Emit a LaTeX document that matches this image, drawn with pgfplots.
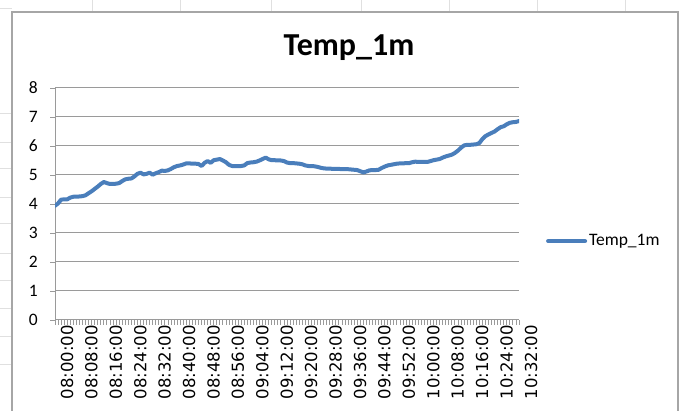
\documentclass[border=0pt]{standalone}
\usepackage{fontspec}
\setmainfont{Carlito}
\newfontfamily\dejavu{DejaVu Sans}
\usepackage{pgfplots}
\pgfplotsset{compat=1.18}
\definecolor{exblue}{HTML}{4A7EBB}
\definecolor{gridc}{HTML}{9A9A9A}
\begin{document}
\begin{tikzpicture}[x=1pt,y=1pt]
\path[use as bounding box] (0,0) rectangle (689,411);
% faint spreadsheet cells outside the chart frame
\foreach \xx in {92,180,271,361,449,537,625} \draw[black!12, line width=0.6pt] (\xx,399) -- (\xx,411);
\foreach \yy in {113,142,168,197,223,253,280,308,336,364} \draw[black!12, line width=0.6pt] (0,411-\yy) -- (12,411-\yy);
\draw[black!12, line width=0.6pt] (0,403) -- (12,403);
% chart frame
\draw[black!35, line width=1.2pt] (12,-5) -- (12,399) -- (678,399) -- (678,-5);
\node[font=\fontsize{32}{36}\selectfont\bfseries] at (349,363) {Temp\_1m};
\begin{axis}[
  at={(55pt,91pt)}, anchor=south west,
  scale only axis, width=464pt, height=232pt,
  xmin=0, xmax=152, ymin=0, ymax=8,
  ytick={0,1,...,8},
  xtick={0,8,...,152},
  minor xtick={0,1,...,152},
  xticklabels={08:00:00,08:08:00,08:16:00,08:24:00,08:32:00,08:40:00,08:48:00,08:56:00,09:04:00,09:12:00,09:20:00,09:28:00,09:36:00,09:44:00,09:52:00,10:00:00,10:08:00,10:16:00,10:24:00,10:32:00},
  /pgf/number format/assume math mode=true,
  yticklabel style={font=\fontsize{17.5}{20}\selectfont, anchor=east, inner sep=0pt, xshift=-12pt},
  xticklabel style={font=\dejavu\fontsize{16.5}{19}\selectfont, rotate=90, anchor=east, inner sep=0pt, yshift=-12pt},
  axis x line*=bottom, axis y line*=left,
  axis line style={gridc, line width=1pt, -},
  tick style={gridc, line width=0.8pt},
  tick align=outside,
  major tick length=5pt, minor tick length=5pt,
  ymajorgrids, grid style={gridc, line width=1pt},
  legend style={draw=none, fill=none, at={(1.058,0.34)}, anchor=west,
    font=\fontsize{17.5}{20}\selectfont, inner sep=0pt},
  legend image code/.code={\draw[#1] (0pt,0pt) -- (37pt,0pt);},
]
\addplot[exblue, line width=4pt, line join=round, line cap=round] table[row sep=\\] {
x y\\
0 3.94\\ 1 4.02\\ 2 4.15\\ 3 4.16\\ 4 4.16\\ 5 4.22\\ 6 4.25\\ 7 4.25\\ 8 4.26\\ 9 4.27\\
10 4.30\\ 11 4.37\\ 12 4.44\\ 13 4.52\\ 14 4.60\\ 15 4.69\\ 16 4.76\\ 17 4.72\\ 18 4.69\\ 19 4.69\\
20 4.70\\ 21 4.72\\ 22 4.79\\ 23 4.85\\ 24 4.87\\ 25 4.88\\ 26 4.95\\ 27 5.04\\ 28 5.08\\ 29 5.02\\
30 5.04\\ 31 5.08\\ 32 5.01\\ 33 5.06\\ 34 5.10\\ 35 5.15\\ 36 5.14\\ 37 5.16\\ 38 5.21\\ 39 5.27\\
40 5.31\\ 41 5.33\\ 42 5.36\\ 43 5.40\\ 44 5.40\\ 45 5.39\\ 46 5.39\\ 47 5.38\\ 48 5.31\\ 49 5.42\\
50 5.48\\ 51 5.42\\ 52 5.51\\ 53 5.53\\ 54 5.55\\ 55 5.50\\ 56 5.44\\ 57 5.35\\ 58 5.31\\ 59 5.31\\
60 5.31\\ 61 5.31\\ 62 5.33\\ 63 5.41\\ 64 5.43\\ 65 5.44\\ 66 5.46\\ 67 5.50\\ 68 5.55\\ 69 5.60\\
70 5.54\\ 71 5.51\\ 72 5.51\\ 73 5.50\\ 74 5.50\\ 75 5.48\\ 76 5.43\\ 77 5.41\\ 78 5.41\\ 79 5.40\\
80 5.39\\ 81 5.37\\ 82 5.33\\ 83 5.31\\ 84 5.31\\ 85 5.30\\ 86 5.28\\ 87 5.25\\ 88 5.23\\ 89 5.22\\
90 5.22\\ 91 5.21\\ 92 5.21\\ 93 5.21\\ 94 5.20\\ 95 5.20\\ 96 5.20\\ 97 5.19\\ 98 5.18\\ 99 5.17\\
100 5.13\\ 101 5.09\\ 102 5.12\\ 103 5.16\\ 104 5.17\\ 105 5.17\\ 106 5.18\\ 107 5.24\\ 108 5.29\\ 109 5.33\\
110 5.35\\ 111 5.37\\ 112 5.39\\ 113 5.40\\ 114 5.40\\ 115 5.41\\ 116 5.41\\ 117 5.44\\ 118 5.46\\ 119 5.45\\
120 5.45\\ 121 5.45\\ 122 5.45\\ 123 5.48\\ 124 5.51\\ 125 5.53\\ 126 5.55\\ 127 5.60\\ 128 5.64\\ 129 5.67\\
130 5.70\\ 131 5.76\\ 132 5.84\\ 133 5.94\\ 134 6.02\\ 135 6.04\\ 136 6.04\\ 137 6.05\\ 138 6.06\\ 139 6.10\\
140 6.24\\ 141 6.34\\ 142 6.40\\ 143 6.45\\ 144 6.50\\ 145 6.58\\ 146 6.65\\ 147 6.68\\ 148 6.75\\ 149 6.80\\
150 6.82\\ 151 6.83\\ 152 6.86\\
};
\addlegendentry{Temp\_1m}
\end{axis}
\end{tikzpicture}
\end{document}
